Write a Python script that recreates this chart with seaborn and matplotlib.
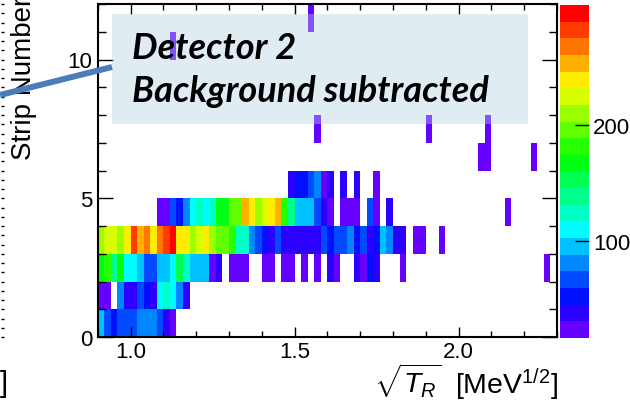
import colorsys
import numpy as np
import pandas as pd
import matplotlib
matplotlib.use("Agg")
import matplotlib.pyplot as plt
from matplotlib.colors import ListedColormap
from matplotlib.lines import Line2D
from matplotlib.patches import Rectangle
from matplotlib.ticker import MultipleLocator, FixedLocator
import seaborn as sns

# ---------------- data ----------------
X_MIN, X_MAX, BIN_W = 0.9, 2.3, 0.02          # sqrt(T_R) histogram binning
N_STRIPS = 12
X_MAJOR = [1.0, 1.5, 2.0]
Y_MAJOR = [0, 5, 10]
CBAR_TICKS = [100, 200]
Z_MIN, Z_MAX = 17, 303

# counts per strip, consecutive sqrt(T_R) bins from X_MIN (0 = empty bin)
strip0 = [97, 69, 55, 69, 69, 69, 83, 83, 83, 69, 41, 27]
strip1 = [27, 27, 0, 83, 41, 41, 69, 55, 41, 111, 125, 111, 83, 41]
strip2 = ([167, 181, 139, 167, 111, 111, 97, 69, 69, 97,
           97, 111, 153, 125, 97, 97, 97, 27, 41, 0,
           27, 27, 27, 0, 0, 27, 27, 0, 27, 27,
           0, 27, 0, 27, 0, 41, 27, 0, 0, 41,
           27, 55, 41, 0, 0, 0, 27] + [0] * 21 + [27])
strip3 = [209, 223, 223, 209, 237, 279, 251, 265, 237, 265,
          279, 293, 237, 237, 209, 223, 237, 209, 195, 195,
          181, 125, 125, 83, 69, 55, 41, 69, 41, 41,
          41, 41, 41, 41, 69, 55, 69, 69, 83, 55,
          69, 41, 55, 97, 83, 41, 41, 0, 27, 27,
          0, 0, 27]
strip4 = ([0] * 9 + [27,
          27, 69, 55, 83, 111, 125, 111, 125, 167, 167,
          195, 195, 251, 237, 209, 223, 237, 251, 181, 139,
          97, 97, 97, 69, 41, 27, 0, 27, 27, 27,
          0, 69, 27, 0, 41] + [0] * 17 + [27])
strip5 = [0] * 29 + [41, 55, 55, 69, 83, 27, 41, 0, 41, 0, 41, 0, 0, 27]
strip6 = [0] * 58 + [27, 27] + [0] * 6 + [27]
strip7 = [0] * 33 + [27] + [0] * 16 + [27] + [0] * 8 + [27]
strip8 = []
strip9 = []
strip10 = [0] * 11 + [27]
strip11 = [0] * 32 + [27]

strips = [strip0, strip1, strip2, strip3, strip4, strip5,
          strip6, strip7, strip8, strip9, strip10, strip11]

n_bins = int(round((X_MAX - X_MIN) / BIN_W))
x_edges = X_MIN + BIN_W * np.arange(n_bins + 1)
y_edges = np.arange(N_STRIPS + 1, dtype=float)

records = []
for s, row in enumerate(strips):
    for k, c in enumerate(row):
        if c > 0:
            records.append((x_edges[k] + BIN_W / 2, s + 0.5, c))
df = pd.DataFrame(records, columns=["sqrtT", "strip", "counts"])

# ---------------- style ----------------
plt.rcParams["font.family"] = ["Liberation Sans", "DejaVu Sans"]
plt.rcParams["mathtext.fontset"] = "custom"
plt.rcParams["mathtext.rm"] = "Liberation Sans"
plt.rcParams["mathtext.it"] = "Liberation Sans:italic"
plt.rcParams["mathtext.bf"] = "Liberation Sans:bold"

W, H = 630, 406
fig = plt.figure(figsize=(W / 100, H / 100), dpi=100)


def fx(px):
    return px / W


def fy(py):
    return 1 - py / H


ax = fig.add_axes([fx(97.7), fy(338), fx(557) - fx(97.7), fy(5) - fy(338)])
cax = fig.add_axes([fx(560), fy(339), fx(589) - fx(560), fy(6) - fy(339)])

palette = [colorsys.hsv_to_rgb(h / 360, 1, 1) for h in np.linspace(264, 0, 20)]
cmap = ListedColormap(palette)

sns.histplot(data=df, x="sqrtT", y="strip", weights="counts",
             bins=[x_edges, y_edges], cmap=cmap, vmin=Z_MIN, vmax=Z_MAX,
             thresh=0, cbar=True, cbar_ax=cax, ax=ax)

ax.set_xlim(X_MIN, X_MAX)
ax.set_ylim(0, N_STRIPS)
ax.set_xlabel("")
ax.set_ylabel("")
ax.grid(False)
for sp in ax.spines.values():
    sp.set_linewidth(1.5)
    sp.set_color("black")

ax.xaxis.set_major_locator(FixedLocator(X_MAJOR))
ax.xaxis.set_minor_locator(MultipleLocator(0.1))
ax.yaxis.set_major_locator(FixedLocator(Y_MAJOR))
ax.yaxis.set_minor_locator(MultipleLocator(1))
ax.set_xticklabels([f"{v:.1f}" for v in X_MAJOR])
ax.set_yticklabels([str(v) for v in Y_MAJOR])
ax.tick_params(which="both", direction="in", top=True, right=True, width=1)
ax.tick_params(axis="x", which="major", length=7.5, labelsize=16, pad=3)
ax.tick_params(axis="x", which="minor", length=4)
ax.tick_params(axis="y", which="major", length=11, labelsize=16, pad=4)
ax.tick_params(axis="y", which="minor", length=6)

# colorbar
cax.yaxis.set_major_locator(FixedLocator(CBAR_TICKS))
cax.set_yticklabels([str(v) for v in CBAR_TICKS])
cax.tick_params(axis="y", direction="in", length=10, width=1, labelsize=16, pad=3)
cax.yaxis.set_minor_locator(FixedLocator([]))
for sp in cax.spines.values():
    sp.set_visible(False)

# annotation box (semi transparent) with text
ax.add_patch(Rectangle((0.0311, 0.6396), 0.9058, 0.3303, transform=ax.transAxes,
                       facecolor="#B1D4E1", alpha=0.4, edgecolor="none", zorder=5))
fig.text(fx(132), fy(59), "Detector 2", fontfamily=["Lato", "DejaVu Sans"],
         fontweight="bold", fontstyle="italic", fontsize=26, va="baseline")
fig.text(fx(132), fy(102), "Background subtracted", fontfamily=["Lato", "DejaVu Sans"],
         fontweight="bold", fontstyle="italic", fontsize=26, va="baseline")

# axis titles
fig.text(fx(24), fy(160), "Strip Number", rotation=90, ha="center", va="bottom",
         fontsize=20)
unit = fig.text(fx(558), fy(394), r"[MeV$^{1/2}$]", ha="right",
                va="baseline", fontsize=20.5)
renderer = fig.canvas.get_renderer()
unit_left = unit.get_window_extent(renderer).x0
fig.text((unit_left - 14) / W, fy(394), r"$\sqrt{T_R}$", ha="right",
         va="baseline", fontsize=20.5)

# remnants of neighbouring plot at the left edge
aux = fig.add_axes([-0.1, fy(338), 0.1 + fx(0.5), fy(5) - fy(338)])
aux.set_xlim(0, 1)
aux.set_ylim(0, 36)
aux.patch.set_visible(False)
for sp in aux.spines.values():
    sp.set_visible(False)
aux.set_xticks([])
aux.yaxis.tick_right()
aux.yaxis.set_major_locator(MultipleLocator(1))
aux.tick_params(axis="y", direction="out", length=2.5, width=1, labelright=False)
fig.text(fx(8), fy(392), "]", ha="right", va="baseline", fontsize=21)

# pointer line
fig.add_artist(Line2D([fx(0), fx(112)], [fy(96), fy(68)], color="#4A7DBA",
                      linewidth=4.3, solid_capstyle="butt", zorder=10))

fig.savefig("out.png", dpi=100)
